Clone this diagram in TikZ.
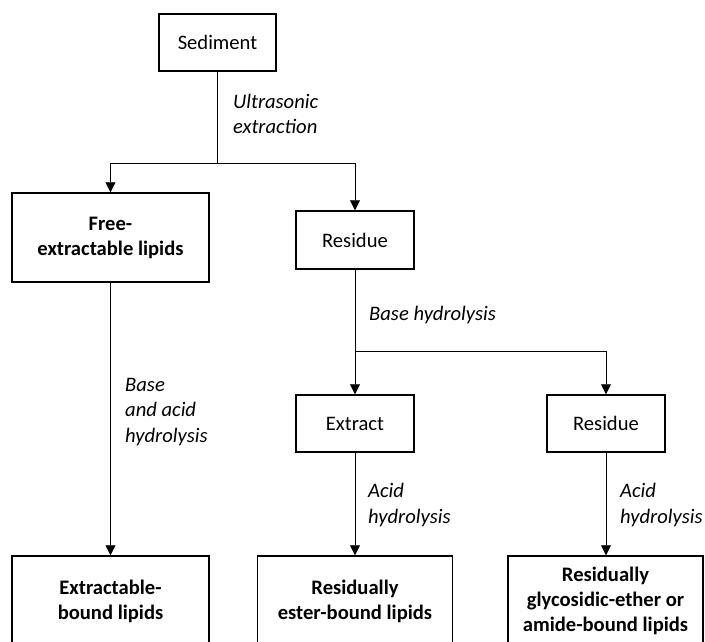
\documentclass[tikz,border=0pt]{standalone}
\usepackage{fontspec}
\setmainfont{Carlito}
\usetikzlibrary{arrows.meta}
\begin{document}
\begin{tikzpicture}[x=1pt,y=-1pt,
  box/.style={draw=black,line width=1.5pt,rectangle,align=center,inner sep=0pt,
    font=\fontsize{20.6}{25}\selectfont},
  bbox/.style={box,font=\fontsize{20.6}{25}\selectfont\bfseries},
  lab/.style={anchor=west,align=left,inner sep=0pt,font=\fontsize{20.6}{25.5}\selectfont\itshape},
  conn/.style={line width=0.8pt},
  arr/.style={conn,-{Triangle[length=10pt,width=10pt]}}]
\clip (0,0) rectangle (705,641);
\useasboundingbox (0,0) rectangle (705,641);
% boxes
\node[box,minimum width=117pt,minimum height=57pt] (sed) at (217.5,42.5) {Sediment};
\node[bbox,minimum width=197pt,minimum height=89pt] (free) at (110.5,237.5) {Free-\\extractable lipids};
\node[box,minimum width=118pt,minimum height=58pt] (res1) at (355,240) {Residue};
\node[box,minimum width=118pt,minimum height=57pt] (ext) at (355,423.5) {Extract};
\node[box,minimum width=118pt,minimum height=57pt] (res2) at (606,423.5) {Residue};
\node[bbox,minimum width=197pt,minimum height=90pt] (b1) at (110.5,601) {Extractable-\\bound lipids};
\node[bbox,minimum width=195pt,minimum height=90pt] (b2) at (355,601) {Residually\\ester-bound lipids};
\node[bbox,minimum width=195pt,minimum height=90pt] (b3) at (605.5,601) {Residually\\glycosidic-ether or\\amide-bound lipids};
% junctions
\coordinate (j1) at (217.5,163);
\coordinate (j2) at (355,351);
% connectors
\draw[conn] (sed) -- (j1);
\draw[arr] (j1) -| (free);
\draw[arr] (j1) -| (res1);
\draw[arr] (free) -- (b1);
\draw[conn] (res1) -- (j2);
\draw[arr] (j2) -- (ext);
\draw[arr] (j2) -| (res2);
\draw[arr] (ext) -- (b2);
\draw[arr] (res2) -- (res2 |- b3.north);
% labels
\node[lab] (l1) at (233,114) {Ultrasonic\\extraction};
\node[lab] (l2) at (369,315) {Base hydrolysis};
\node[lab] (l3) at (125,412) {Base\\and acid\\hydrolysis};
\node[lab] (l4) at (368,505) {Acid\\hydrolysis};
\node[lab] (l5) at (620,505) {Acid\\hydrolysis};
\end{tikzpicture}
\end{document}
